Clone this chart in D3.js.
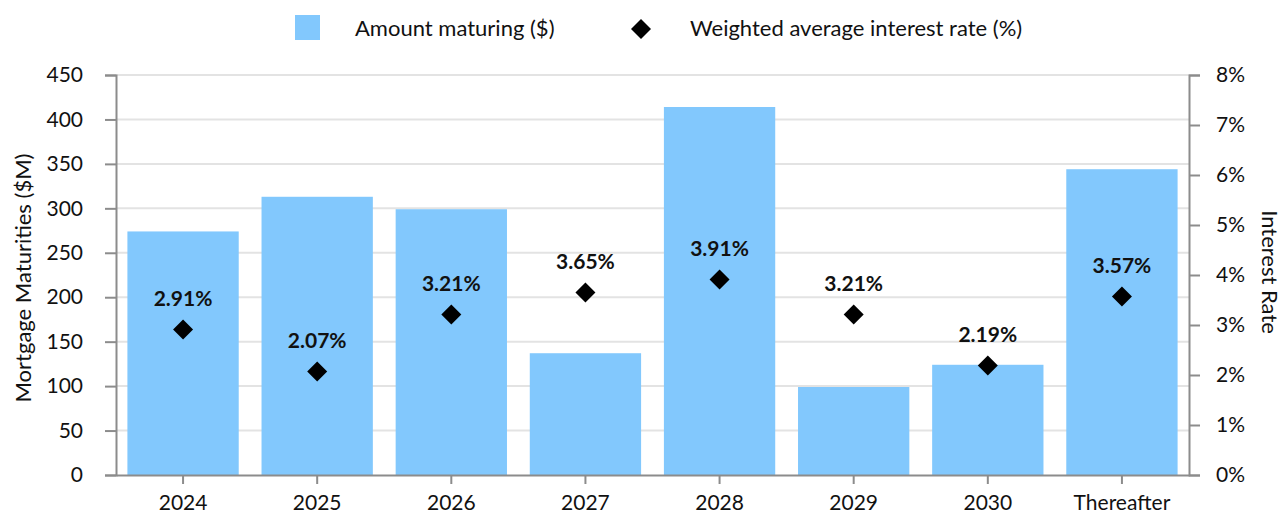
<html>
<head>
<meta charset="utf-8" />
<title>Mortgage Maturities</title>
<script src="https://d3js.org/d3.v7.min.js"></script>
<style>
    body { margin: 0px; background: #fff; }
    text { font-family: Lato, "Liberation Sans", Arial, sans-serif; fill: #111; }
    .axis .domain { stroke: #8c8c8c; stroke-width: 2; }
    .axis .tick line { stroke: #8c8c8c; stroke-width: 2; }
    .axis .tick text { font-size: 21px; fill: #111; font-family: Lato, "Liberation Sans", Arial, sans-serif; }
    .grid line { stroke: #e3e3e3; stroke-width: 2; }
    .rate-label { font-size: 21px; font-weight: bold; }
    .legend text, .axis-title { font-size: 22px; }
</style>
</head>
<body>
<script>
// chart data
var categories = ["2024", "2025", "2026", "2027", "2028", "2029", "2030", "Thereafter"];
var amounts = [274, 313, 299, 137, 414, 99, 124, 344];   // $M
var rates = [2.91, 2.07, 3.21, 3.65, 3.91, 3.21, 2.19, 3.57]; // %
var leftTicks = [0, 50, 100, 150, 200, 250, 300, 350, 400, 450];
var rightTicks = [0, 1, 2, 3, 4, 5, 6, 7, 8];

var width = 1284, height = 515;
var margin = {top: 75, right: 95, bottom: 40, left: 116};

var data = categories.map(function(c, i) {
    return {cat: c, amount: amounts[i], rate: rates[i]};
});

var svg = d3.select("body").append("svg")
    .attr("width", width)
    .attr("height", height);

var x = d3.scaleBand()
    .domain(categories)
    .range([margin.left, width - margin.right])
    .paddingInner(0.17)
    .paddingOuter(0.085);

var y = d3.scaleLinear()
    .domain([0, 450])
    .range([height - margin.bottom, margin.top]);

var y2 = d3.scaleLinear()
    .domain([0, 8])
    .range([height - margin.bottom, margin.top]);

// gridlines
svg.append("g")
    .attr("class", "grid")
    .selectAll("line")
    .data(leftTicks.slice(1))
    .enter()
    .append("line")
        .attr("x1", margin.left)
        .attr("x2", width - margin.right)
        .attr("y1", d => y(d))
        .attr("y2", d => y(d));

// bars
svg.append("g")
    .selectAll("rect")
    .data(data)
    .enter()
    .append("rect")
        .attr("x", d => x(d.cat))
        .attr("y", d => y(d.amount))
        .attr("width", x.bandwidth())
        .attr("height", d => y(0) - y(d.amount))
        .style("fill", "#82c8fd");

// axes
svg.append("g")
    .attr("class", "axis")
    .attr("transform", "translate(" + margin.left + ",0)")
    .call(d3.axisLeft(y).tickValues(leftTicks).tickSize(11).tickSizeOuter(11).tickPadding(22));

svg.append("g")
    .attr("class", "axis")
    .attr("transform", "translate(" + (width - margin.right) + ",0)")
    .call(d3.axisRight(y2).tickValues(rightTicks).tickSize(11).tickSizeOuter(11).tickPadding(16)
        .tickFormat(d => d + "%"));

svg.append("g")
    .attr("class", "axis")
    .attr("transform", "translate(0," + (height - margin.bottom) + ")")
    .call(d3.axisBottom(x).tickSize(9).tickSizeOuter(0).tickPadding(11));

// diamonds
var diamond = "M0,-10L10,0L0,10L-10,0Z";
svg.append("g")
    .selectAll("path")
    .data(data)
    .enter()
    .append("path")
        .attr("d", diamond)
        .attr("transform", d => "translate(" + (x(d.cat) + x.bandwidth() / 2) + "," + y2(d.rate) + ")")
        .style("fill", "#000");

// rate labels
svg.append("g")
    .selectAll("text")
    .data(data)
    .enter()
    .append("text")
        .attr("class", "rate-label")
        .attr("x", d => x(d.cat) + x.bandwidth() / 2)
        .attr("y", d => y2(d.rate) - 24)
        .attr("text-anchor", "middle")
        .text(d => d.rate.toFixed(2) + "%");

// axis titles
svg.append("text")
    .attr("class", "axis-title")
    .attr("transform", "translate(31,278) rotate(-90)")
    .attr("text-anchor", "middle")
    .text("Mortgage Maturities ($M)");

svg.append("text")
    .attr("class", "axis-title")
    .attr("transform", "translate(1262,272) rotate(90)")
    .attr("text-anchor", "middle")
    .text("Interest Rate");

// legend
var legend = svg.append("g").attr("class", "legend");
legend.append("rect")
    .attr("x", 295).attr("y", 15)
    .attr("width", 25).attr("height", 25)
    .style("fill", "#82c8fd");
legend.append("text")
    .attr("x", 355).attr("y", 36)
    .text("Amount maturing ($)");
legend.append("path")
    .attr("d", diamond)
    .attr("transform", "translate(641,29)")
    .style("fill", "#000");
legend.append("text")
    .attr("x", 690).attr("y", 36)
    .text("Weighted average interest rate (%)");
</script>
</body>
</html>
